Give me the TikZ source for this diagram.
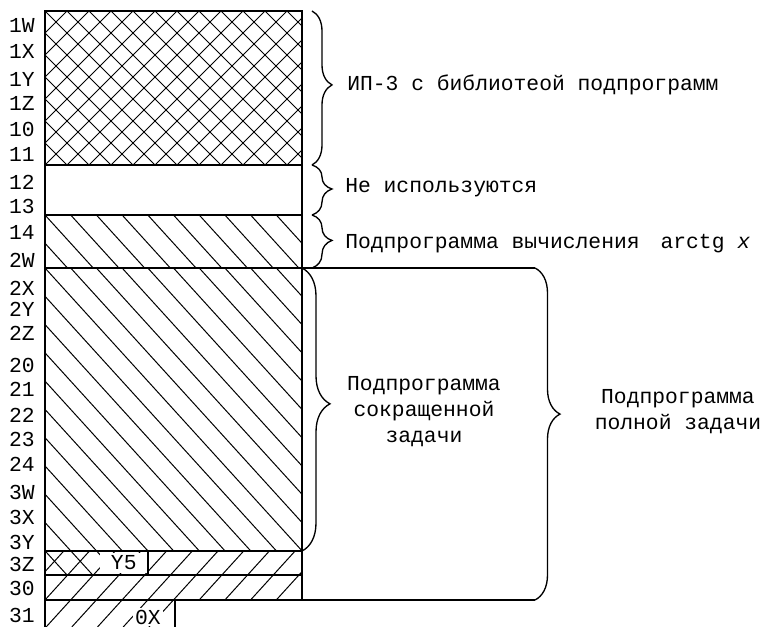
\documentclass[tikz,border=0pt]{standalone}
\usepackage{fontspec}
\setmonofont{Liberation Mono}
\usetikzlibrary{decorations.pathreplacing}

\begin{document}
\begin{tikzpicture}[x=0.75pt,y=-0.75pt,
  txt/.style={font=\ttfamily\fontsize{16}{19.5}\selectfont},
  hatch/.style={line width=0.75pt},
  wall/.style={line width=1.2pt},
  curly/.style={decorate,decoration={brace,amplitude=#1,aspect=0.48},line width=1pt}]
  \useasboundingbox (0,0) rectangle (765,627);
  % IP-3 block, cross hatched
  \begin{scope}
    \clip (45,11) rectangle (302,165);
    \foreach \k in {-8,...,12}
      \draw[hatch] (45+22*\k,11) -- ++(154,154);
    \foreach \k in {0,...,19}
      \draw[hatch] (45+22*\k,11) -- ++(-154,154);
  \end{scope}
  % arctg block
  \begin{scope}
    \clip (45,215) rectangle (302,268);
    \foreach \k in {-2,...,10}
      \draw[hatch] (45+25.7*\k,215) -- ++(48.2,53);
  \end{scope}
  % short task block
  \begin{scope}
    \clip (45,268) rectangle (302,551) (45,551) rectangle (100,575);
    \foreach \k in {-11,...,10}
      \draw[hatch] (45+25.7*\k,268) -- ++(279,307);
  \end{scope}
  % lower block
  \begin{scope}
    \clip (45,551) rectangle (302,600) (45,600) rectangle (175,627);
    \foreach \k in {-2,...,11}
      \draw[hatch] (89.5+25.7*\k,551) -- ++(-69.1,76);
  \end{scope}
  \node[txt,fill=white,inner sep=0pt,minimum width=35pt,minimum height=15pt,anchor=east] (y5) at (147.4,563) {Y5};
  \node[txt,fill=white,inner sep=1.5pt] (ox) at (148,617) {0X};
  % frame
  \draw[wall] (45,627) -- (45,11) -- (302,11) -- (302,600);
  \foreach \ty in {165,215,551,575}
    \draw[wall] (45,\ty) -- (302,\ty);
  \draw[wall] (45,268) -- (535,268);
  \draw[wall] (45,600) -- (535,600);
  \draw[wall] (148,551) -- (148,575);
  \draw[wall] (175,600) -- (175,627);
  % addresses
  \foreach \ty/\tl in {25/1W,51/1X,79/1Y,103/1Z,129/10,154/11,182/12,206/13,232/14,
      260/2W,288/2X,309/2Y,333/2Z,365/20,389/21,415/22,439/23,464/24,492/3W,
      517/3X,542/3Y,564/3Z,588/30,615/31}
    \node[txt,anchor=east,inner sep=0pt] (m\tl) at (35,\ty) {\tl};
  % braces
  \draw[curly=15pt] (312,11) -- (312,165);
  \draw[curly=15pt] (312,165) -- (312,215);
  \draw[curly=15pt] (312,215) -- (312,268);
  \draw[curly=21pt] (302,268) -- (302,551);
  \draw[curly=18.75pt,decoration={aspect=0.44}] (535,268) -- (535,600);
  \node[txt,anchor=west,inner sep=0pt] (lib) at (347,85) {ИП-3 с библиотеой подпрограмм};
  \node[txt,anchor=west,inner sep=0pt] (free) at (345,188) {Не используются};
  \node[txt,anchor=west,inner sep=0pt] (arct) at (345,244) {Подпрограмма вычисления\hspace{0.98em}arctg \textit{x}};
  \node[txt,align=center,inner sep=0pt] (short) at (424,412) {Подпрограмма\\сокращенной\\задачи};
  \node[txt,align=center,inner sep=0pt] (full) at (678,412) {Подпрограмма\\полной задачи};
\end{tikzpicture}
\end{document}
